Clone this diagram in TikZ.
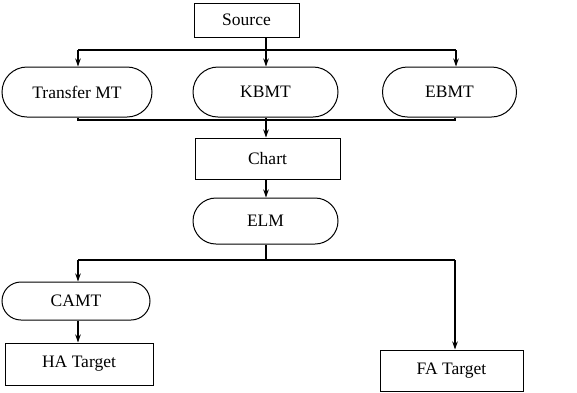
\documentclass[tikz,border=0pt]{standalone}
\usepackage{fontspec}
\setmainfont{Liberation Serif}
\usetikzlibrary{shapes.misc,arrows.meta}
\begin{document}
\begin{tikzpicture}[x=1pt,y=-1pt,
  box/.style={draw,line width=1pt,rectangle,inner sep=0pt,font=\fontsize{17.5}{19}\selectfont},
  pill/.style={draw,line width=1pt,rounded rectangle,rounded rectangle arc length=180,inner sep=0pt,font=\fontsize{17.5}{19}\selectfont},
  conn/.style={line width=1.1pt},
  arr/.style={conn,-{Stealth[length=8pt,width=5.5pt]}}]
\useasboundingbox (0,0) rectangle (577,392);
\node[box,minimum width=105pt,minimum height=34pt] (src) at (246.5,20) {Source};
\node[pill,minimum width=150pt,minimum height=50pt] (tmt) at (77,92) {Transfer MT};
\node[pill,minimum width=145pt,minimum height=50pt] (kbmt) at (265.5,92) {KBMT};
\node[pill,minimum width=134pt,minimum height=50pt] (ebmt) at (449.5,92) {EBMT};
\node[box,minimum width=145pt,minimum height=41pt] (chart) at (267.5,158.5) {Chart};
\node[pill,minimum width=145pt,minimum height=46pt] (elm) at (265.5,221) {ELM};
\node[pill,minimum width=148pt,minimum height=38pt] (camt) at (76,301) {CAMT};
\node[box,minimum width=148pt,minimum height=42pt] (ha) at (79,364) {HA Target};
\node[box,minimum width=143pt,minimum height=41pt] (fa) at (451.5,370.5) {FA Target};
% split from source
\coordinate (s0) at (266,50);
\coordinate (sl) at (78,50);
\coordinate (sr) at (456,50);
\draw[conn] (src.south -| s0) -- (s0);
\draw[conn] (sl) -- (sr);
\draw[arr] (sl) -- (tmt.north -| sl);
\draw[arr] (s0) -- (kbmt.north -| s0);
\draw[arr] (sr) -- (ebmt.north -| sr);
% merge
\coordinate (m0) at (266,120);
\coordinate (ml) at (78,120);
\coordinate (mr) at (455,120);
\draw[conn] (tmt.south -| ml) -- (ml) -- (mr) -- (ebmt.south -| mr);
\draw[arr] (kbmt.south -| m0) -- (chart.north -| m0);
\draw[arr] (chart.south -| m0) -- (elm.north -| m0);
% split from ELM
\coordinate (e0) at (266,260);
\coordinate (el) at (78,260);
\coordinate (er) at (455,260);
\draw[conn] (elm.south -| e0) -- (e0);
\draw[conn] (el) -- (er);
\draw[arr] (el) -- (camt.north -| el);
\draw[arr] (er) -- (fa.north -| er);
\draw[arr] (camt.south -| el) -- (ha.north -| el);
\end{tikzpicture}
\end{document}
